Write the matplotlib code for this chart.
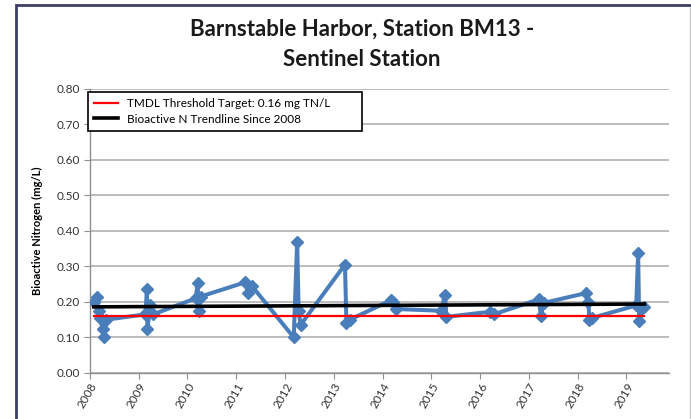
import matplotlib
matplotlib.use('Agg')
import matplotlib.pyplot as plt
from matplotlib.patches import Rectangle
from matplotlib.lines import Line2D

plt.rcParams['font.family'] = ['Lato', 'DejaVu Sans']

# sample dates (decimal years) and bioactive N values (mg/L)
dates = [2008.08, 2008.14, 2008.18, 2008.21, 2008.26, 2008.30, 2008.34,
         2009.14, 2009.17, 2009.18, 2009.24, 2009.30,
         2010.17, 2010.21, 2010.23, 2010.27,
         2011.18, 2011.25, 2011.32,
         2012.18, 2012.25, 2012.28, 2012.32,
         2013.23, 2013.26, 2013.33,
         2014.18, 2014.22, 2014.27,
         2015.20, 2015.28, 2015.31,
         2016.20, 2016.28,
         2017.20, 2017.25, 2017.30,
         2018.18, 2018.22, 2018.24, 2018.30,
         2019.20, 2019.24, 2019.26, 2019.37]
values = [0.200, 0.215, 0.175, 0.155, 0.125, 0.100, 0.150,
          0.165, 0.235, 0.125, 0.190, 0.165,
          0.210, 0.253, 0.175, 0.215,
          0.255, 0.225, 0.245,
          0.100, 0.370, 0.175, 0.135,
          0.305, 0.140, 0.150,
          0.205, 0.200, 0.180,
          0.175, 0.220, 0.158,
          0.172, 0.165,
          0.207, 0.160, 0.197,
          0.225, 0.200, 0.148, 0.155,
          0.190, 0.337, 0.145, 0.187]

threshold = 0.16
trend_x = [2008.08, 2019.37]
trend_y = [0.186, 0.194]

years = list(range(2008, 2020))
yticks = [0.0, 0.1, 0.2, 0.3, 0.4, 0.5, 0.6, 0.7, 0.8]

fig = plt.figure(figsize=(6.91, 4.19), dpi=100)
ax = fig.add_axes([0.130, 0.110, 0.838, 0.678])

ax.plot(dates, values, color='#4A7EBB', lw=2.9, marker='D', ms=6,
        zorder=3)
ax.plot(trend_x, [threshold, threshold], color='#FF0000', lw=1.6,
        label='TMDL Threshold Target: 0.16 mg TN/L', zorder=4)
ax.plot(trend_x, trend_y, color='black', lw=2.6,
        label='Bioactive N Trendline Since 2008', zorder=4)

ax.set_xlim(2008, 2019.87)
ax.set_ylim(0, 0.8)
ax.set_xticks(years)
ax.set_xticklabels([str(y) for y in years], rotation=60, ha='right',
                   rotation_mode='anchor', fontsize=8.5)
ax.set_yticks(yticks)
ax.set_yticklabels(['%.2f' % v for v in yticks], fontsize=8.5)
ax.tick_params(axis='both', direction='out', length=4, color='#909090',
               labelcolor='#333333')
ax.tick_params(axis='y', pad=3)
ax.tick_params(axis='x', pad=2)

ax.grid(axis='y', color='#B0B0B0', lw=1.2)
ax.set_axisbelow(True)
for s in ['top', 'right']:
    ax.spines[s].set_visible(False)
for s in ['left', 'bottom']:
    ax.spines[s].set_color('#909090')
    ax.spines[s].set_linewidth(1.0)

ax.set_ylabel('Bioactive Nitrogen (mg/L)', fontsize=8, fontweight='bold',
              labelpad=10)

fig.text(0.524, 0.895, 'Barnstable Harbor, Station BM13 -\nSentinel Station',
         ha='center', va='center', fontsize=16, fontweight='bold',
         linespacing=1.55, color='#1a1a1a')

leg = ax.legend(loc='upper left',
                bbox_to_anchor=(88 / 691, 1 - 137 / 419, 274 / 691, 45 / 419),
                bbox_transform=fig.transFigure, mode='expand', fontsize=8.5,
                frameon=True, fancybox=False, borderpad=0.5,
                labelspacing=0.4, handlelength=2.0, borderaxespad=0)
leg.get_frame().set_edgecolor('black')
leg.get_frame().set_linewidth(1.2)
leg.get_frame().set_alpha(1)

# outer chart frame
fig.add_artist(Rectangle((16 / 691, -0.1), 1.2, 1.1 - 5 / 419,
                         transform=fig.transFigure, fill=False,
                         edgecolor='#3C3F66', lw=2))
fig.add_artist(Line2D([690 / 691, 690 / 691], [0, 1 - 7 / 419],
                      transform=fig.transFigure, color='#C8C8C8', lw=1))

fig.savefig('out.png', dpi=100)
